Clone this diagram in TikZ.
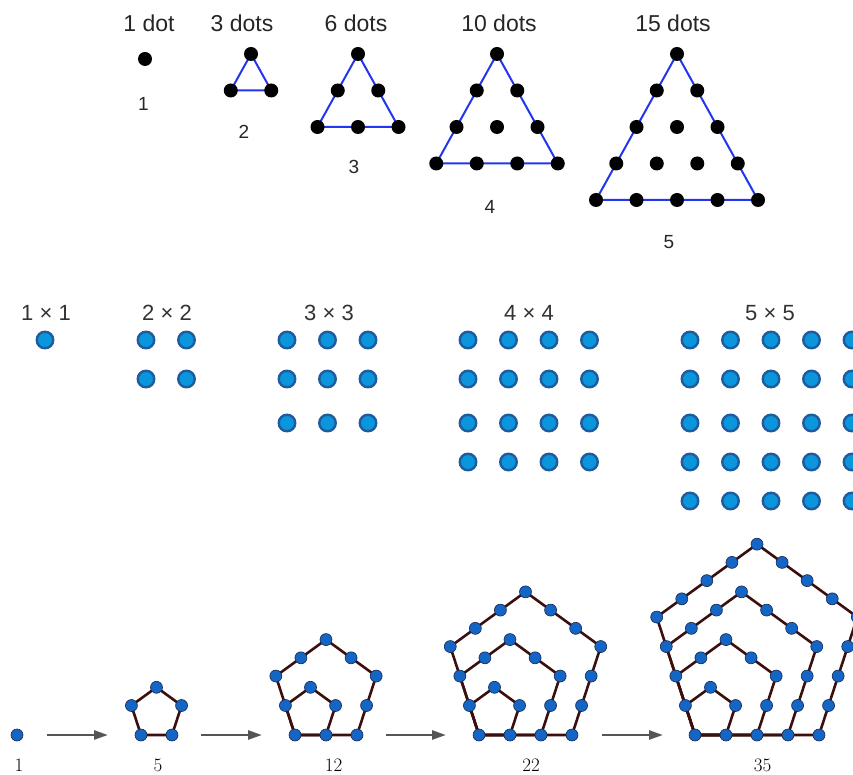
\documentclass[tikz,border=0pt]{standalone}
\usepackage{fontspec}
\newfontfamily\labelfont{Liberation Sans}
\usepackage{xcolor}
\usetikzlibrary{arrows.meta,calc,backgrounds}
\definecolor{triblue}{HTML}{2236EE}
\definecolor{sqfill}{HTML}{0A96DC}
\definecolor{sqedge}{HTML}{1F5B9D}
\definecolor{pfill}{HTML}{1565C4}
\definecolor{pedge}{HTML}{142850}
\definecolor{pbrown}{HTML}{3C0F0F}
\definecolor{arrowgray}{HTML}{555555}

\begin{document}
\begin{tikzpicture}[x=1pt,y=1pt,
tdot/.style={circle,fill=black,inner sep=0pt,minimum size=14pt},
sqdot/.style={circle,fill=sqfill,draw=sqedge,line width=2.4pt,inner sep=0pt,minimum size=16.5pt},
pdot/.style={circle,fill=pfill,draw=pedge,line width=0.6pt,inner sep=0pt,minimum size=12pt},
tline/.style={draw=triblue,line width=2pt,line join=round},
pline/.style={draw=pbrown,line width=2.6pt,line join=round},
growarrow/.style={draw=arrowgray,line width=2.6pt,-{Triangle[length=14pt,width=9pt]}},
toplab/.style={font=\labelfont\fontsize{23}{26}\selectfont,text=black!85},
numlab/.style={font=\labelfont\fontsize{19}{22}\selectfont,text=black!85},
sqlab/.style={font=\labelfont\fontsize{22}{25}\selectfont,text=black!80},
penlab/.style={font=\fontsize{19}{21}\selectfont}]
\useasboundingbox (0,0) rectangle (853,774);

\node[toplab] (h1) at (149,751) {1 dot};
\node[toplab] (h2) at (242,751) {3 dots};
\node[toplab] (h3) at (356,751) {6 dots};
\node[toplab] (h4) at (499,751) {10 dots};
\node[toplab] (h5) at (673,751) {15 dots};
\node[tdot] (t1) at (145,715) {};
\foreach \n/\cx in {2/251,3/358,4/497,5/677}{
  \pgfmathtruncatemacro\rmax{\n-1}
  \foreach \r in {0,...,\rmax}
    \foreach \j in {0,...,\r}
      \node[tdot] (t\n-\r-\j) at ({\cx+(\j-\r/2)*40.5},{720-\r*36.5}) {};
  \begin{scope}[on background layer]
    \draw[tline] (t\n-0-0.center) -- (t\n-\rmax-0.center) -- (t\n-\rmax-\rmax.center) -- cycle;
  \end{scope}
}
\node[numlab] (n1) at (143.5,670) {1};
\node[numlab] (n2) at (244,642.5) {2};
\node[numlab] (n3) at (354,607.5) {3};
\node[numlab] (n4) at (490,567.5) {4};
\node[numlab] (n5) at (669,532) {5};

\foreach \n/\sx/\lx in {1/45/46,2/146/167,3/287/329,4/468/529,5/690/770}{
  \node[sqlab] (s\n-lab) at (\lx,461) {\n\ ×\ \n};
  \pgfmathtruncatemacro\rmax{\n-1}
  \foreach \r in {0,...,\rmax}{
    \pgfmathsetmacro\ry{{434,395,351,312,273}[\r]}
    \foreach \c in {0,...,\rmax}
      \node[sqdot] (s\n-\r-\c) at ({\sx+\c*40.5},\ry) {};
  }
}

\node[pdot] (p1) at (17,39) {};
\foreach \n/\bx in {2/141,3/295,4/479,5/695}{
  \pgfmathtruncatemacro\mmax{\n-1}
  \foreach \m in {1,...,\mmax}{
    \pgfmathsetmacro\a{\m*31}
    \coordinate (P\n-\m-0) at (\bx,39);
    \coordinate (P\n-\m-1) at ($(P\n-\m-0)+(0:\a)$);
    \coordinate (P\n-\m-2) at ($(P\n-\m-1)+(72:\a)$);
    \coordinate (P\n-\m-3) at ($(P\n-\m-2)+(144:\a)$);
    \coordinate (P\n-\m-4) at ($(P\n-\m-3)+(216:\a)$);
    \draw[pline] (P\n-\m-0) -- (P\n-\m-1) -- (P\n-\m-2) -- (P\n-\m-3) -- (P\n-\m-4) -- cycle;
  }
  \foreach \m in {1,...,\mmax}{
    \pgfmathtruncatemacro\imax{\m-1}
    \foreach \k/\kk in {1/2,2/3,3/4}
      \foreach \i in {0,...,\imax}
        \node[pdot] (p\n-\m-\k-\i) at ($(P\n-\m-\k)!\i/\m!(P\n-\m-\kk)$) {};
  }
  \foreach \i in {0,...,\mmax}
    \node[pdot] (p\n-e-\i) at ($(P\n-\mmax-4)!\i/\mmax!(P\n-\mmax-0)$) {};
}
\foreach \i/\xs/\xe in {1/47/108,2/201/262,3/386/446,4/602/663}{
  \coordinate (arr\i-from) at (\xs,39);
  \coordinate (arr\i-to) at (\xe,39);
  \draw[growarrow] (arr\i-from) -- (arr\i-to);
}
\node[penlab] (c1) at (19,8.5) {1};
\node[penlab] (c5) at (158,8.5) {5};
\node[penlab] (c12) at (333.5,8.5) {12};
\node[penlab] (c22) at (531,8.5) {22};
\node[penlab] (c35) at (762.5,8.5) {35};
\end{tikzpicture}
\end{document}
